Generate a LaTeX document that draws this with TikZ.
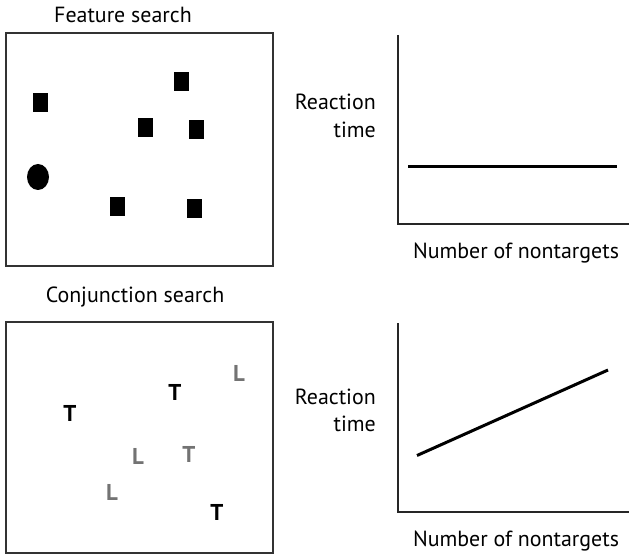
\documentclass[tikz,border=0pt]{standalone}
\usepackage{fontspec}
\setmainfont{PT Sans}
\usetikzlibrary{shapes.geometric}
\begin{document}
\begin{tikzpicture}[x=1bp,y=-1bp,
  frame/.style={draw=black!80,line width=1.1bp},
  axis/.style={draw=black!85,line width=1.2bp},
  curve/.style={draw=black,line width=3bp},
  label/.style={font=\fontsize{22}{24}\selectfont,inner sep=0pt},
  blob/.style={fill=black,draw=none,minimum width=15bp,minimum height=19bp,inner sep=0pt},
  letter/.style={font=\fontsize{23}{24}\bfseries\selectfont,inner sep=0pt},
  dark/.style={letter,text=black},
  pale/.style={letter,text=black!55}]
\useasboundingbox (0,0) rectangle (629,555);

% Feature search panel
\node[label] (ftitle) at (123,15) {Feature search};
\draw[frame] (6,33) rectangle (273,266);
\node[blob] (s1) at (40.5,102.5) {};
\node[blob] (s2) at (181,82) {};
\node[blob] (s3) at (145,128) {};
\node[blob] (s4) at (196,129.5) {};
\node[blob] (s5) at (117,207) {};
\node[blob] (s6) at (194,209) {};
\node[fill=black,ellipse,minimum width=22bp,minimum height=26bp,inner sep=0pt] (c1) at (38,177) {};

% Conjunction search panel
\node[label] (ctitle) at (135,297) {Conjunction search};
\draw[frame] (6,322) rectangle (273,553);
\node[pale] (l1) at (239,373) {L};
\node[dark] (t1) at (175,392) {T};
\node[dark] (t2) at (70,413) {T};
\node[pale] (l2) at (138,456) {L};
\node[pale] (t3) at (189,454) {T};
\node[pale] (l3) at (112,492) {L};
\node[dark] (t4) at (217,512) {T};

% Reaction time, flat
\coordinate (ya) at (398,35);
\coordinate (o1) at (398,224);
\coordinate (xa) at (629,224);
\draw[axis] (ya) -- (o1) -- (xa);
\coordinate (f0) at (408,166.5);
\coordinate (f1) at (617,166.5);
\draw[curve] (f0) -- (f1);
\node[label,anchor=east] (rt1) at (376,101.5) {Reaction};
\node[label,anchor=east] (tm1) at (376,130) {time};
\node[label] (nx1) at (516,253) {Number of nontargets};

% Reaction time, rising
\coordinate (yb) at (398,323);
\coordinate (o2) at (398,512);
\coordinate (xb) at (629,512);
\draw[axis] (yb) -- (o2) -- (xb);
\coordinate (g0) at (417,455.5);
\coordinate (g1) at (608,370);
\draw[curve] (g0) -- (g1);
\node[label,anchor=east] (rt2) at (376,396.5) {Reaction};
\node[label,anchor=east] (tm2) at (376,424) {time};
\node[label] (nx2) at (516,541.5) {Number of nontargets};
\end{tikzpicture}
\end{document}
